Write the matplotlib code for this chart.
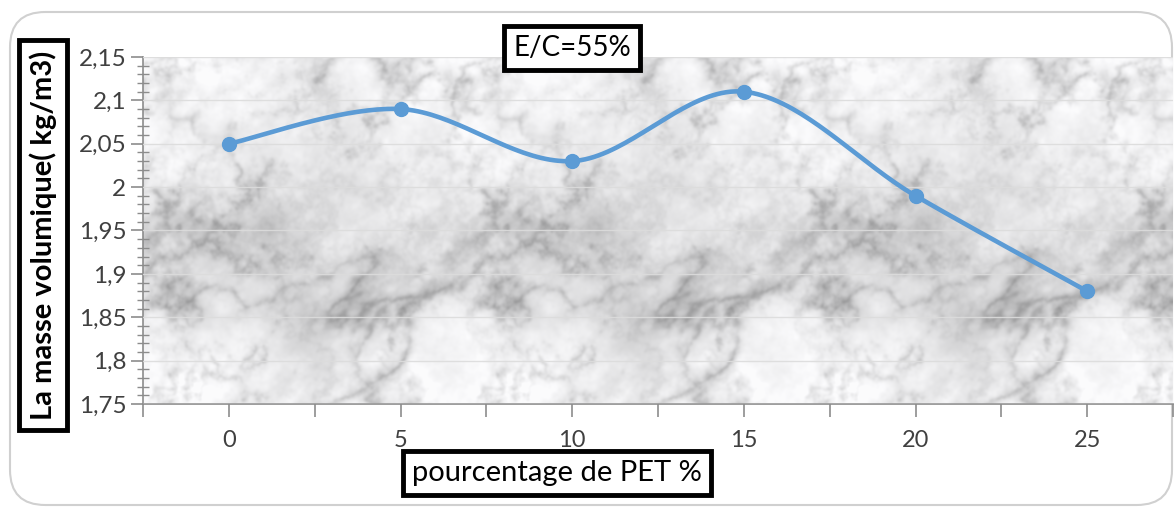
import numpy as np
import matplotlib
matplotlib.use("Agg")
import matplotlib.pyplot as plt
from matplotlib.patches import FancyBboxPatch
from matplotlib.ticker import MultipleLocator, FuncFormatter

# --- data -------------------------------------------------------------
pet_percent = [0, 5, 10, 15, 20, 25]
density = [2.05, 2.09, 2.03, 2.11, 1.99, 1.88]
x_tick_labels = ["0", "5", "10", "15", "20", "25"]
title_text = "E/C=55%"
x_label = "pourcentage de PET %"
y_label = "La masse volumique( kg/m3)"

XMIN, XMAX = -2.5, 27.5
YMIN, YMAX = 1.75, 2.15

plt.rcParams["font.family"] = ["Lato", "DejaVu Sans"]

W, H = 1176, 507
fig = plt.figure(figsize=(W / 100, H / 100), dpi=100)
fig.patch.set_facecolor("white")

# rounded chart frame
frame = FancyBboxPatch((10 / W, 2 / H), 1162 / W, 493 / H,
                       boxstyle="round,pad=0,rounding_size=0.03",
                       transform=fig.transFigure, fc="white",
                       ec="#d0d0d0", lw=1.5, zorder=-10,
                       mutation_aspect=W / H)
fig.patches.append(frame)

ax = fig.add_axes([143 / W, (H - 404) / H, 1030 / W, 347 / H])
ax.set_zorder(2)
ax.patch.set_alpha(0)


# --- marble texture tile, repeated across the plot area ----------------
th, tw = 348, 328
FY = np.fft.fftfreq(th)[:, None]
FX = np.fft.fftfreq(tw)[None, :]


def noise(rng, beta, angle=0.0, stretch=1.0):
    """Normalised periodic 1/f^beta noise, optionally elongated along `angle`."""
    a = np.deg2rad(angle)
    u = FX * np.cos(a) + FY * np.sin(a)
    v = -FX * np.sin(a) + FY * np.cos(a)
    f = np.sqrt((u * stretch) ** 2 + v ** 2)
    f[0, 0] = 1.0
    spec = np.fft.fft2(rng.standard_normal((th, tw))) / f ** beta
    spec[0, 0] = 0
    n = np.real(np.fft.ifft2(spec))
    return (n - n.mean()) / n.std()


def blur(img, sigma):
    g = np.exp(-2 * (np.pi * sigma) ** 2 * (FX ** 2 + FY ** 2))
    return np.real(np.fft.ifft2(np.fft.fft2(img) * g))


rng = np.random.default_rng(5)

mottle = noise(rng, 1.4)
streaks = noise(rng, 1.6, angle=-35, stretch=2.5)
# veins follow the zero crossings of smooth noise fields
n_big = noise(rng, 2.0, angle=-35, stretch=1.6)
n_small = noise(rng, 1.7)
mask_big = np.clip(0.55 + 0.45 * noise(rng, 1.3), 0.0, 1.3)
mask_small = np.clip(0.6 + 0.5 * noise(rng, 1.2), 0.0, 1.3)
n_fine = noise(rng, 1.5)

veins_big = np.exp(-np.abs(n_big) / 0.24) * mask_big
veins_small = np.exp(-np.abs(n_small) / 0.24) * mask_small
veins_fine = np.exp(-np.abs(n_fine) / 0.2)

tex = (0.94 + 0.035 * mottle
       - 0.03 * np.clip(streaks, 0, None)
       - 0.22 * veins_big
       - 0.15 * veins_small
       - 0.06 * veins_fine)
tex = blur(tex, 1.1)
tex = np.clip(tex, 0.5, 0.985)
tex = np.tile(tex, (1, 4))[:, :1030]
rgb = np.clip(np.dstack([tex, tex, tex * 1.006]), 0, 1)

ax.imshow(rgb, extent=(XMIN, XMAX, YMIN, YMAX), aspect="auto",
          interpolation="bilinear", zorder=0)

# --- axes, ticks, grid ------------------------------------------------
ax.set_xlim(XMIN, XMAX)
ax.set_ylim(YMIN, YMAX)
xt = np.arange(XMIN, XMAX + 0.01, 2.5)
ax.set_xticks(xt)
lab_map = {float(v): s for v, s in zip(pet_percent, x_tick_labels)}
ax.set_xticklabels([lab_map.get(float(v), "") for v in xt])
ax.yaxis.set_major_locator(MultipleLocator(0.05))
ax.yaxis.set_minor_locator(MultipleLocator(0.01))
ax.yaxis.set_major_formatter(
    FuncFormatter(lambda v, p: f"{v:.2f}".rstrip("0").rstrip(".").replace(".", ",")))

for side in ["top", "right"]:
    ax.spines[side].set_visible(False)
for side in ["left", "bottom"]:
    ax.spines[side].set_color("#8c8c8c")
    ax.spines[side].set_linewidth(1.2)

ax.tick_params(axis="x", direction="out", length=9, width=1.2, color="#8c8c8c",
               labelsize=17, labelcolor="#404040", pad=10)
ax.tick_params(axis="y", which="major", direction="out", length=9, width=1.2,
               color="#8c8c8c", labelsize=17.5, labelcolor="#404040", pad=3)
ax.tick_params(axis="y", which="minor", direction="inout", length=9, width=1.0,
               color="#8c8c8c")

ax.grid(axis="y", which="major", color="#dcdcdc", lw=1.0, alpha=0.9, zorder=1)
ax.set_axisbelow(False)


# --- smoothed series (cubic Bezier through points, Catmull-Rom style) ----
def smooth_curve(xs, ys, steps=40):
    px = np.asarray(xs, float)
    py = np.asarray(ys, float)
    n = len(px)
    ox, oy = [], []
    t = np.linspace(0, 1, steps)
    for i in range(n - 1):
        p0 = np.array([px[max(i - 1, 0)], py[max(i - 1, 0)]])
        p1 = np.array([px[i], py[i]])
        p2 = np.array([px[i + 1], py[i + 1]])
        p3 = np.array([px[min(i + 2, n - 1)], py[min(i + 2, n - 1)]])
        c1 = p1 + (p2 - p0) / 6.0
        c2 = p2 - (p3 - p1) / 6.0
        b = ((1 - t) ** 3)[:, None] * p1 + (3 * (1 - t) ** 2 * t)[:, None] * c1 \
            + (3 * (1 - t) * t ** 2)[:, None] * c2 + (t ** 3)[:, None] * p2
        ox.extend(b[:, 0])
        oy.extend(b[:, 1])
    return np.array(ox), np.array(oy)


sx, sy = smooth_curve(pet_percent, density)
ax.plot(sx, sy, color="#5b9bd5", lw=3.3, solid_capstyle="round", zorder=3)
ax.plot(pet_percent, density, "o", color="#5b9bd5", ms=10, zorder=4)

# --- boxed labels ---------------------------------------------------------
fig.text(572 / W, 1 - 48 / H, title_text, ha="center", va="center",
         fontsize=20, color="black", zorder=5,
         bbox=dict(boxstyle="square,pad=0.32", fc="white", ec="black", lw=3.5))
fig.text(557 / W, 1 - 473 / H, x_label, ha="center", va="center",
         fontsize=21, color="black", zorder=5,
         bbox=dict(boxstyle="square,pad=0.3", fc="white", ec="black", lw=3.5))
fig.text(43 / W, 1 - 235 / H, y_label, ha="center", va="center", rotation=90,
         fontsize=21, fontweight="bold", color="black", zorder=5,
         bbox=dict(boxstyle="square,pad=0.34", fc="white", ec="black", lw=3.5))

fig.savefig("out.png", dpi=100, facecolor="white")
